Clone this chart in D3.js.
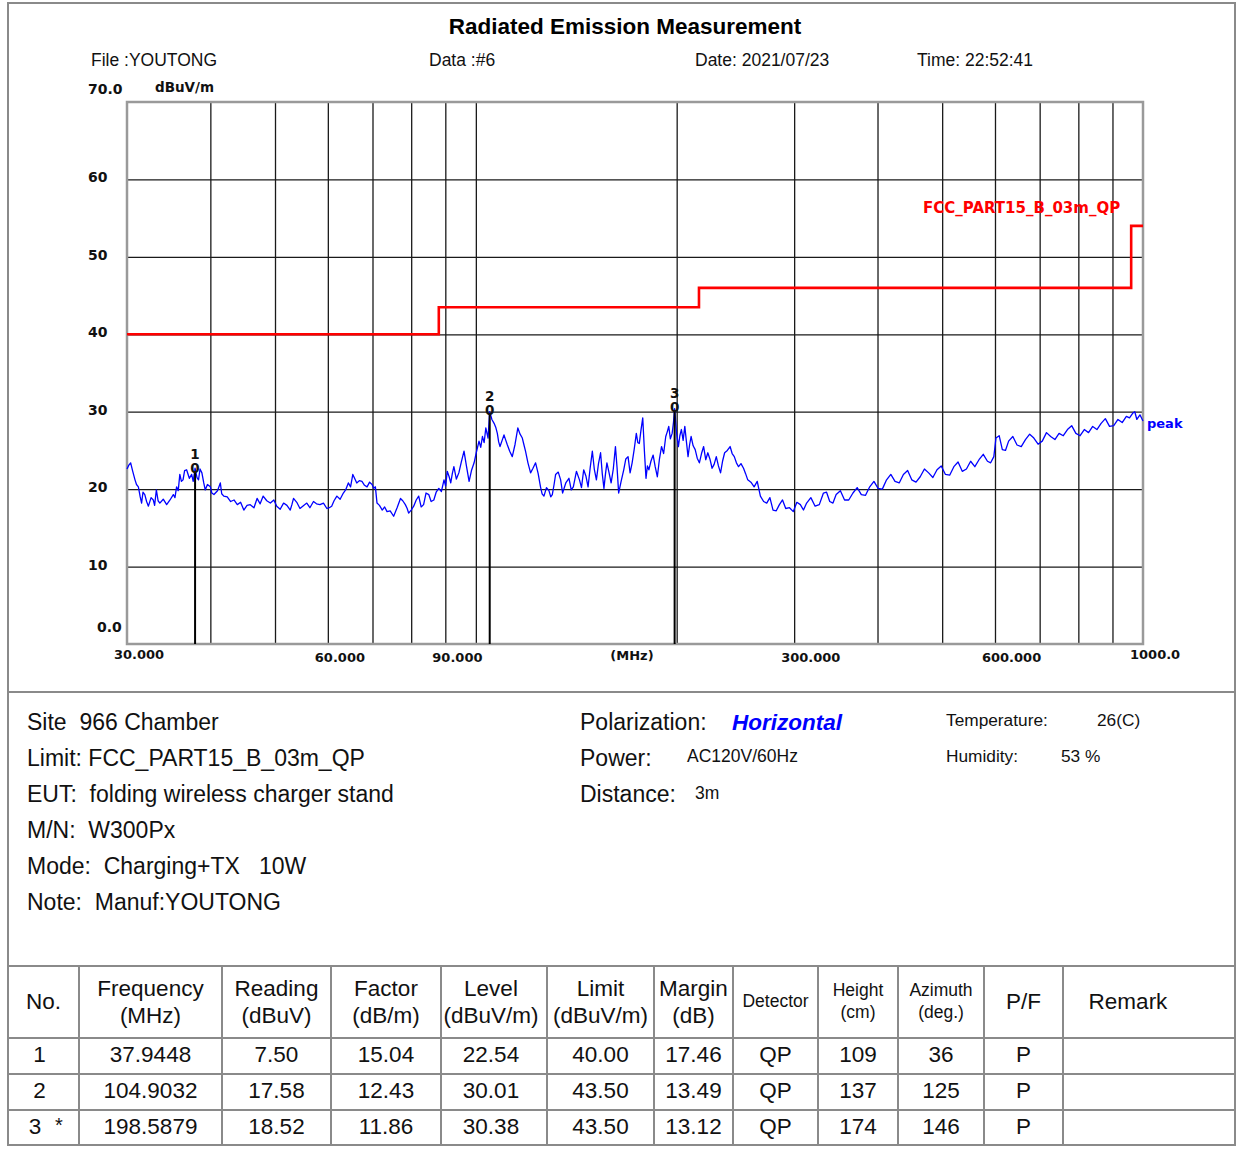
<!DOCTYPE html>
<html><head><meta charset="utf-8">
<script src="https://cdn.jsdelivr.net/npm/d3@7/dist/d3.min.js"></script>
<style>body{margin:0;background:#fff;} svg{display:block;}</style>
</head><body>
<svg id="c" width="1237" height="1164"></svg>
<script>
// ---------- data ----------
const peakFreq = [30.0,30.19,30.38,30.6,30.84,31.0,31.2,31.4,31.55,31.7,31.9,32.1,32.3,32.6,32.85,33.0,33.2,33.4,33.6,34.0,34.4,34.8,35.2,35.4,35.6,35.8,36.0,36.2,36.4,36.6,36.85,37.2,37.5,37.7,37.94,38.2,38.4,38.6,38.85,39.1,39.3,39.6,40.0,40.2,40.5,41.0,41.4,41.6,41.9,42.4,42.9,43.4,43.9,44.4,44.9,45.4,45.9,46.5,47.0,47.5,48.0,48.6,49.2,49.8,50.3,50.9,51.5,52.1,52.7,53.0,53.3,53.9,54.5,55.2,55.8,56.4,57.1,57.7,58.4,59.1,59.8,60.3,60.8,61.3,61.9,62.6,63.3,63.8,64.4,64.9,65.4,65.8,66.3,66.9,67.5,68.1,68.7,69.3,69.9,70.3,70.7,71.1,71.7,72.4,73.0,73.6,74.4,75.3,76.2,77.1,77.7,78.4,78.9,79.3,80.0,80.7,81.4,82.1,82.8,83.5,84.2,85.0,85.7,86.5,87.2,88.0,88.8,89.6,90.1,90.6,91.2,91.7,92.2,92.7,93.5,94.3,95.1,96.0,96.8,97.7,98.5,99.4,100.2,101.1,101.7,102.3,102.9,103.5,104.3,104.9,105.7,106.5,107.1,107.7,108.2,108.7,109.5,110.2,110.8,111.5,112.4,113.4,114.5,115.6,116.5,117.4,118.0,118.7,119.7,120.8,121.8,122.9,124.0,125.0,125.7,126.5,127.6,128.7,129.5,130.2,131.0,131.7,132.9,134.0,134.9,136.4,137.9,139.0,140.0,141.5,143.0,144.0,145.1,146.2,147.3,148.4,149.5,150.5,151.6,152.7,153.8,154.7,155.6,156.4,157.2,158.3,159.5,160.7,161.9,162.8,163.7,165.1,166.6,167.8,169.1,170.3,171.5,172.7,174.0,174.9,175.8,176.8,177.9,178.9,179.9,180.8,181.7,183.0,184.4,185.7,187.1,188.4,189.8,191.2,192.6,193.6,194.6,195.7,196.9,197.8,198.6,199.9,201.2,202.2,203.3,204.5,205.7,206.8,208.0,209.1,210.2,211.7,213.2,214.7,216.3,217.9,219.5,221.1,222.7,224.3,226.0,227.6,229.3,231.0,232.7,234.3,236.0,238.2,240.5,242.2,244.0,245.8,247.6,249.7,251.9,253.7,255.6,258.4,261.3,264.1,267.0,270.0,272.9,275.9,278.9,282.0,285.1,288.2,291.4,295.2,299.1,302.8,306.5,309.8,313.2,317.8,322.5,327.2,331.9,335.5,339.2,343.0,346.8,351.9,357.0,362.2,367.5,372.9,378.3,383.8,389.4,395.1,400.8,406.7,412.7,418.8,424.9,431.1,437.4,443.8,450.2,456.8,463.5,470.3,477.2,484.2,491.2,498.4,505.7,513.1,520.6,528.2,535.9,543.7,551.6,559.7,567.8,576.2,584.6,591.1,597.6,602.0,608.7,615.4,622.1,628.9,638.1,647.4,656.9,666.5,676.3,686.1,696.2,706.3,716.7,727.1,737.8,748.5,759.5,770.5,781.8,793.2,804.9,816.6,828.6,840.6,853.0,865.4,878.1,890.9,904.0,917.2,930.7,944.2,954.5,964.9,972.0,979.0,989.5,1000];
const peakLevel = [22.6,23.1,23.4,22.3,21.2,20.6,20.3,19.0,18.2,19.6,19.3,18.4,17.8,18.9,18.6,17.9,19.9,18.5,18.2,18.7,18.0,18.6,19.3,18.9,20.3,19.8,21.9,21.0,21.2,22.4,22.5,21.4,21.9,21.0,22.7,21.5,21.2,22.6,22.1,20.8,19.9,20.6,20.3,19.5,19.3,19.8,20.8,19.4,19.1,19.0,18.4,18.6,18.0,18.3,17.3,17.9,18.0,17.6,18.8,18.1,19.1,18.5,18.2,18.6,17.8,17.4,18.2,17.9,17.3,18.0,18.8,18.3,17.5,17.9,18.2,17.6,18.4,18.1,18.0,18.2,17.5,17.6,17.8,18.5,19.1,18.7,19.5,19.9,20.8,20.3,21.9,21.4,20.8,21.1,21.0,20.5,20.3,20.9,20.6,20.1,20.3,18.2,17.9,17.3,17.7,17.1,17.2,16.5,17.6,18.8,18.5,18.0,17.5,16.9,17.3,17.8,18.6,19.1,17.7,18.0,19.5,19.3,18.4,18.6,19.6,20.1,19.7,21.2,20.4,22.3,21.6,20.8,22.0,22.9,21.3,22.1,23.5,24.9,23.0,21.0,22.4,23.4,24.8,26.2,25.4,26.8,26.0,27.9,26.6,30.0,29.0,28.5,28.0,27.2,26.1,25.5,26.3,27.0,26.4,25.7,24.9,24.2,25.8,27.9,27.1,26.6,25.8,24.9,23.4,22.1,22.7,23.4,22.0,20.3,19.4,19.1,20.2,19.8,19.0,19.3,20.6,21.9,22.2,21.2,19.5,20.8,21.4,19.9,20.3,22.3,21.2,20.2,22.5,21.7,20.3,22.8,24.9,22.6,21.2,23.3,24.7,22.0,20.1,21.9,23.4,22.2,20.8,22.6,25.5,22.8,19.5,21.0,22.5,23.9,24.2,22.1,23.4,25.1,27.2,26.0,25.9,27.6,29.2,25.0,21.4,23.0,22.5,23.6,24.4,22.9,21.6,23.8,25.5,24.6,26.8,27.4,28.1,26.5,27.2,28.6,30.4,27.3,25.5,26.9,27.7,26.3,28.1,26.2,24.2,25.7,26.8,25.6,25.1,24.0,23.4,24.6,25.5,23.8,24.7,23.9,22.7,23.2,24.2,23.0,22.1,23.6,24.7,25.0,25.5,24.6,24.2,23.4,22.9,23.3,22.7,22.0,21.2,20.9,20.3,21.0,19.1,18.4,18.2,18.9,17.3,17.2,18.0,18.6,17.5,17.6,17.1,18.3,18.0,17.3,18.2,18.9,17.8,18.0,19.5,19.6,18.4,18.2,19.3,19.8,18.6,18.6,19.5,20.2,19.3,19.2,20.3,21.0,20.1,20.0,21.2,21.9,21.0,20.8,21.9,22.4,21.2,20.9,21.6,22.6,22.1,21.5,22.5,23.0,21.9,21.8,22.9,23.5,22.3,22.6,23.6,22.9,23.8,24.5,23.6,23.4,24.2,26.6,26.9,25.1,25.0,26.2,26.8,25.7,25.5,26.4,27.1,26.6,25.8,26.2,27.3,26.8,26.4,27.2,26.9,27.7,28.2,27.2,26.9,27.7,27.3,28.1,27.7,28.5,29.1,28.1,28.2,29.0,28.6,29.4,29.2,29.8,30.0,29.0,29.6,28.8];
const limitFreq  = [30, 88, 88, 216, 216, 960, 960, 1000];
const limitLevel = [40, 40, 43.5, 43.5, 46, 46, 54, 54];
const markerNo    = ["1", "2", "3"];
const markerFreq  = [37.9448, 104.9032, 198.5879];
const markerLevel = [22.54, 30.01, 30.38];
const xGridTicks  = [40, 50, 60, 70, 80, 90, 100, 200, 300, 400, 500, 600, 700, 800, 900];
const xLabelValues = [30, 60, 90, 300, 600, 1000];
const xLabelText   = ["30.000", "60.000", "90.000", "300.000", "600.000", "1000.0"];
const yTickValues = [0, 10, 20, 30, 40, 50, 60, 70];
const yTickText   = ["0.0", "10", "20", "30", "40", "50", "60", "70.0"];

const headerInfo = ["File :YOUTONG", "Data :#6", "Date: 2021/07/23", "Time: 22:52:41"];
const infoLeft = ["Site  966 Chamber", "Limit: FCC_PART15_B_03m_QP", "EUT:  folding wireless charger stand", "M/N:  W300Px", "Mode:  Charging+TX   10W", "Note:  Manuf:YOUTONG"];

const colNo        = ["1", "2", "3"];
const colFreq      = ["37.9448", "104.9032", "198.5879"];
const colReading   = ["7.50", "17.58", "18.52"];
const colFactor    = ["15.04", "12.43", "11.86"];
const colLevel     = ["22.54", "30.01", "30.38"];
const colLimit     = ["40.00", "43.50", "43.50"];
const colMargin    = ["17.46", "13.49", "13.12"];
const colDetector  = ["QP", "QP", "QP"];
const colHeight    = ["109", "137", "174"];
const colAzimuth   = ["36", "125", "146"];
const colPF        = ["P", "P", "P"];

// ---------- drawing ----------
const svg = d3.select("#c");
const ARIAL = "'Liberation Sans', Arial, sans-serif";
const PIX = "'DejaVu Sans', sans-serif";
const L = 127, R = 1143, T = 102, B = 644;
const x = d3.scaleLog().domain([30, 1000]).range([L, R]);
const y = d3.scaleLinear().domain([0, 70]).range([B, T]);

// outer frame
svg.append("rect").attr("x", 8).attr("y", 3).attr("width", 1227).attr("height", 1142)
  .attr("fill", "none").attr("stroke", "#8a8a8a").attr("stroke-width", 2);
svg.append("line").attr("x1", 8).attr("x2", 1235).attr("y1", 692).attr("y2", 692)
  .attr("stroke", "#8a8a8a").attr("stroke-width", 2);

// title & header
svg.append("text").attr("x", 625).attr("y", 34).attr("text-anchor", "middle")
  .attr("font-family", ARIAL).attr("font-weight", "bold").attr("font-size", 22.5).text("Radiated Emission Measurement");
const headerX = [91, 429, 695, 917];
svg.selectAll("text.hdr").data(headerInfo).join("text").attr("class", "hdr")
  .attr("x", (d, i) => headerX[i]).attr("y", 66)
  .attr("font-family", ARIAL).attr("font-size", 17.5).attr("fill", "#111").text(d => d);

// grid (via axes)
const gx = svg.append("g").attr("transform", `translate(0,${B})`)
  .call(d3.axisBottom(x).tickValues(xGridTicks).tickSize(-(B - T)).tickFormat(""));
gx.select(".domain").remove();
gx.selectAll("line").attr("stroke", "#1a1a1a").attr("stroke-width", 1.3);
const gy = svg.append("g").attr("transform", `translate(${L},0)`)
  .call(d3.axisLeft(y).tickValues(yTickValues.filter(v => v > 0 && v < 70)).tickSize(-(R - L)).tickFormat(""));
gy.select(".domain").remove();
gy.selectAll("line").attr("stroke", "#1a1a1a").attr("stroke-width", 1.3);

// plot frame
svg.append("rect").attr("x", L).attr("y", T).attr("width", R - L).attr("height", B - T)
  .attr("fill", "none").attr("stroke", "#9a9a9a").attr("stroke-width", 2.5);

// axis labels
svg.selectAll("text.xl").data(xLabelValues).join("text").attr("class", "xl")
  .attr("x", d => x(d) - 13).attr("y", (d, i) => (i === 0 || i === xLabelValues.length - 1) ? 659 : 662)
  .attr("font-family", PIX).attr("font-weight", "bold").attr("font-size", 13).attr("fill", "#111")
  .text((d, i) => xLabelText[i]);
svg.append("text").attr("x", 632).attr("y", 660).attr("text-anchor", "middle")
  .attr("font-family", PIX).attr("font-weight", "bold").attr("font-size", 13).attr("fill", "#111").text("(MHz)");
svg.selectAll("text.yl").data(yTickValues).join("text").attr("class", "yl")
  .attr("x", d => d === 0 ? 97 : 88)
  .attr("y", d => d === 0 ? y(d) - 12 : (d === 70 ? y(d) - 8 : y(d) + 3))
  .attr("font-family", PIX).attr("font-weight", "bold").attr("font-size", 14).attr("fill", "#111")
  .text((d, i) => yTickText[i]);
svg.append("text").attr("x", 155).attr("y", 92).attr("font-family", PIX).attr("font-weight", "bold")
  .attr("font-size", 13.5).attr("fill", "#111").text("dBuV/m");

// limit line
const limitData = limitFreq.map((f, i) => [f, limitLevel[i]]);
svg.append("path").datum(limitData)
  .attr("d", d3.line().x(d => x(d[0])).y(d => y(d[1])))
  .attr("fill", "none").attr("stroke", "#ff0000").attr("stroke-width", 2.6);
svg.append("text").attr("x", 923).attr("y", 213).attr("font-family", PIX).attr("font-weight", "bold")
  .attr("font-size", 15).attr("fill", "#ff0000").text("FCC_PART15_B_03m_QP");

// peak trace
const peakData = peakFreq.map((f, i) => [f, peakLevel[i]]);
svg.append("path").datum(peakData)
  .attr("d", d3.line().x(d => x(d[0])).y(d => y(d[1])))
  .attr("fill", "none").attr("stroke", "#0000ff").attr("stroke-width", 1.3).attr("stroke-linejoin", "round");
svg.append("text").attr("x", 1147).attr("y", 428).attr("font-family", PIX).attr("font-weight", "bold")
  .attr("font-size", 13).attr("fill", "#0000ff").text("peak");

// markers
const mk = svg.selectAll("g.mk").data(markerFreq).join("g").attr("class", "mk");
mk.append("line").attr("x1", d => x(d)).attr("x2", d => x(d))
  .attr("y1", (d, i) => y(markerLevel[i]) + 2).attr("y2", B)
  .attr("stroke", "#000").attr("stroke-width", 2);
mk.append("text").attr("x", d => x(d)).attr("y", (d, i) => y(markerLevel[i]) + 3.5)
  .attr("text-anchor", "middle").attr("font-family", PIX).attr("font-weight", "bold")
  .attr("font-size", 13.5).attr("fill", "#111").text("0");
mk.append("text").attr("x", d => x(d)).attr("y", (d, i) => y(markerLevel[i]) - 10.5)
  .attr("text-anchor", "middle").attr("font-family", PIX).attr("font-weight", "bold")
  .attr("font-size", 13.5).attr("fill", "#111").text((d, i) => markerNo[i]);

// info block
const addT = (txt, xx, yy, size, opts = {}) => {
  const t = svg.append("text").attr("x", xx).attr("y", yy).attr("font-family", ARIAL)
    .attr("font-size", size).attr("fill", opts.fill || "#111").attr("xml:space", "preserve").text(txt);
  if (opts.bold) t.attr("font-weight", "bold");
  if (opts.italic) t.attr("font-style", "italic");
  if (opts.anchor) t.attr("text-anchor", opts.anchor);
  return t;
};
infoLeft.forEach((d, i) => addT(d, 27, 730 + i * 36, 23));
addT("Polarization:", 580, 730, 23);
addT("Horizontal", 732, 730, 22.5, { fill: "#0000ff", bold: true, italic: true });
addT("Power:", 580, 766, 23);
addT("AC120V/60Hz", 687, 762, 17.5);
addT("Distance:", 580, 802, 23);
addT("3m", 695, 799, 17.5);
addT("Temperature:", 946, 726, 17.3);
addT("26(C)", 1097, 726, 17.3);
addT("Humidity:", 946, 762, 17.3);
addT("53 %", 1061, 762, 17.3);

// table
const colX = [8, 79, 222, 331, 441, 547, 654, 733, 818, 898, 984, 1063, 1235];
const rowY = [966, 1038, 1074, 1110, 1145];
const tg = svg.append("g");
tg.append("rect").attr("x", 8).attr("y", 966).attr("width", 1227).attr("height", 1145 - 966).attr("fill", "#fff")
  .attr("stroke", "#8a8a8a").attr("stroke-width", 2);
tg.selectAll("line.cv").data(colX.slice(1, -1)).join("line").attr("class", "cv")
  .attr("x1", d => d).attr("x2", d => d).attr("y1", 966).attr("y2", 1145).attr("stroke", "#8a8a8a").attr("stroke-width", 2);
tg.selectAll("line.rh").data(rowY.slice(1, -1)).join("line").attr("class", "rh")
  .attr("x1", 8).attr("x2", 1235).attr("y1", d => d).attr("y2", d => d).attr("stroke", "#8a8a8a").attr("stroke-width", 2);

const cx = i => (colX[i] + colX[i + 1]) / 2;
const headers = [
  [["No."], 22.5], [["Frequency", "(MHz)"], 22.5], [["Reading", "(dBuV)"], 22.5], [["Factor", "(dB/m)"], 22.5],
  [["Level", "(dBuV/m)"], 22.5], [["Limit", "(dBuV/m)"], 22.5], [["Margin", "(dB)"], 22.5], [["Detector"], 17.5],
  [["Height", "(cm)"], 17.5], [["Azimuth", "(deg.)"], 17.5], [["P/F"], 22.5], [["Remark"], 22.5]
];
headers.forEach((h, i) => {
  const [lines, size] = h;
  const xx = i === 11 ? 1128 : cx(i) - (i === 4 ? 3 : 0);
  if (lines.length === 1) {
    addT(lines[0], xx, size > 20 ? 1009 : 1007, size, { anchor: "middle" });
  } else {
    const big = size > 20;
    addT(lines[0], xx, 996, size, { anchor: "middle" });
    addT(lines[1], xx, big ? 1023 : 1018, size, { anchor: "middle" });
  }
});
const cols = [colNo, colFreq, colReading, colFactor, colLevel, colLimit, colMargin, colDetector, colHeight, colAzimuth, colPF];
cols.forEach((col, c) => {
  col.forEach((v, r) => {
    const xx = c === 0 ? (r === 2 ? 35 : cx(0) - 4) : (c === 4 ? cx(c) - 3 : cx(c));
    addT(v, xx, 1062 + r * 36, 22.5, { anchor: "middle" });
  });
});
addT("*", 59, 1132, 20, { anchor: "middle" });
</script>
</body></html>
